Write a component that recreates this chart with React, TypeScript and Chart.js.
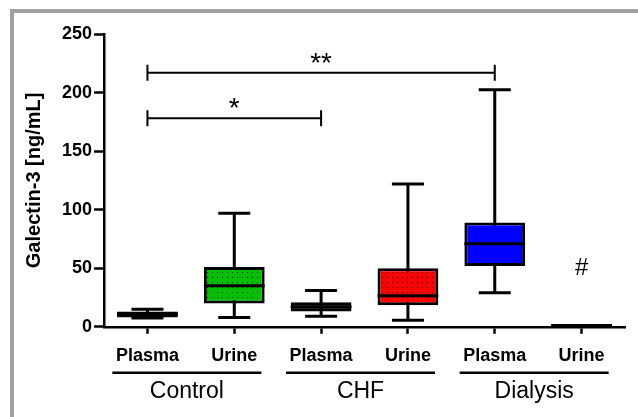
import React, { useEffect, useRef } from "react";
import { Chart, registerables } from "chart.js";

Chart.register(...registerables);

// ---- data ----
const categories = ["Plasma", "Urine", "Plasma", "Urine", "Plasma", "Urine"];
const groups = ["Control", "CHF", "Dialysis"];
const whiskerMin = [7.5, 8, 9, 5.5, 29, 1];
const q1 = [8, 20, 13, 18.5, 52, 0.5];
const median = [10.5, 35, 17, 26.5, 71, 1.2];
const q3 = [13, 51, 21, 50, 89, 1.8];
const whiskerMax = [15, 97, 31, 122, 202.5, 1];
const boxColors = ["#000000", "#00c000", "#000000", "#ff0000", "#0000ff", "#ffffff"];
const dotted = [false, true, false, true, false, false];
const yTicks = [0, 50, 100, 150, 200, 250];
const bracketFrom = [0, 0];
const bracketTo = [4, 2];
const bracketValue = [217, 178];
const bracketLabel = ["**", "*"];
const noteCategory = [5];
const noteValue = [44];
const noteText = ["#"];

const FONT = "'Liberation Sans', Arial, Helvetica, sans-serif";

function makePattern(color: string): CanvasPattern | string {
  const c = document.createElement("canvas");
  c.width = 5;
  c.height = 5;
  const g = c.getContext("2d");
  if (!g) return color;
  g.fillStyle = color;
  g.fillRect(0, 0, 5, 5);
  g.fillStyle = "rgba(0,0,0,0.85)";
  g.fillRect(2, 2, 1, 1);
  const p = g.createPattern(c, "repeat");
  return p || color;
}

const boxPlugin = {
  id: "boxExtras",
  beforeDatasetsDraw(chart: any) {
    const { ctx } = chart;
    const y = chart.scales.y;
    const meta = chart.getDatasetMeta(0);
    ctx.save();
    ctx.strokeStyle = "#000";
    ctx.lineWidth = 3;
    meta.data.forEach((bar: any, i: number) => {
      const cx = bar.x;
      const half = 16;
      const yMax = y.getPixelForValue(whiskerMax[i]);
      const yMin = y.getPixelForValue(whiskerMin[i]);
      ctx.beginPath();
      ctx.moveTo(cx, yMax);
      ctx.lineTo(cx, yMin);
      ctx.moveTo(cx - half, yMax);
      ctx.lineTo(cx + half, yMax);
      ctx.moveTo(cx - half, yMin);
      ctx.lineTo(cx + half, yMin);
      ctx.stroke();
    });
    ctx.restore();
  },
  afterDatasetsDraw(chart: any) {
    const { ctx } = chart;
    const x = chart.scales.x;
    const y = chart.scales.y;
    const meta = chart.getDatasetMeta(0);
    ctx.save();
    ctx.strokeStyle = "#000";
    ctx.lineWidth = 3;
    meta.data.forEach((bar: any, i: number) => {
      const w = bar.width;
      const ym = y.getPixelForValue(median[i]);
      ctx.beginPath();
      ctx.moveTo(bar.x - w / 2, ym);
      ctx.lineTo(bar.x + w / 2, ym);
      ctx.stroke();
    });
    // significance brackets
    ctx.lineWidth = 2;
    ctx.fillStyle = "#000";
    ctx.textAlign = "center";
    ctx.textBaseline = "alphabetic";
    ctx.font = `normal 28px ${FONT}`;
    bracketFrom.forEach((f, i) => {
      const x1 = x.getPixelForValue(f);
      const x2 = x.getPixelForValue(bracketTo[i]);
      const yy = y.getPixelForValue(bracketValue[i]);
      ctx.beginPath();
      ctx.moveTo(x1, yy);
      ctx.lineTo(x2, yy);
      ctx.moveTo(x1, yy - 8);
      ctx.lineTo(x1, yy + 8);
      ctx.moveTo(x2, yy - 8);
      ctx.lineTo(x2, yy + 8);
      ctx.stroke();
      ctx.fillText(bracketLabel[i], (x1 + x2) / 2, yy - 1);
    });
    // notes
    ctx.font = `normal 24px ${FONT}`;
    noteCategory.forEach((c, i) => {
      ctx.fillText(noteText[i], x.getPixelForValue(c), y.getPixelForValue(noteValue[i]));
    });
    ctx.restore();
  },
  afterDraw(chart: any) {
    const { ctx, chartArea } = chart;
    const x = chart.scales.x;
    ctx.save();
    ctx.strokeStyle = "#000";
    ctx.lineWidth = 2.5;
    groups.forEach((_g, gi) => {
      const c = (x.getPixelForValue(gi * 2) + x.getPixelForValue(gi * 2 + 1)) / 2 - 4;
      const yy = chartArea.bottom + 46;
      ctx.beginPath();
      ctx.moveTo(c - 74.5, yy);
      ctx.lineTo(c + 74.5, yy);
      ctx.stroke();
    });
    ctx.restore();
  },
};

export default function App() {
  const ref = useRef<HTMLCanvasElement | null>(null);

  useEffect(() => {
    if (!ref.current) return;
    const bg = boxColors.map((c, i) => (dotted[i] ? makePattern(c) : c));
    const chart = new Chart(ref.current, {
      type: "bar",
      data: {
        labels: categories,
        datasets: [
          {
            data: q1.map((v, i) => [v, q3[i]]) as any,
            backgroundColor: bg as any,
            borderColor: "#000",
            borderWidth: 3,
            borderSkipped: false,
            barPercentage: 0.7,
            categoryPercentage: 1,
          },
        ],
      },
      options: {
        responsive: false,
        animation: false,
        devicePixelRatio: 1,
        layout: { padding: { left: 22, top: 34, right: 13, bottom: 12 } },
        plugins: { legend: { display: false }, tooltip: { enabled: false }, title: { display: false } },
        scales: {
          x: {
            type: "category",
            position: "bottom",
            offset: true,
            grid: {
              display: true,
              offset: false,
              drawOnChartArea: false,
              drawTicks: true,
              tickLength: 7,
              tickWidth: 2.5,
              tickColor: "#000",
            },
            border: { display: true, color: "#000", width: 2.5 },
            ticks: {
              color: "#000",
              font: { family: FONT, size: 18, weight: "bold" },
              padding: 11,
              maxRotation: 0,
              autoSkip: false,
            },
          },
          x2: {
            type: "category",
            position: "bottom",
            labels: groups,
            offset: true,
            grid: { display: false, drawTicks: false },
            border: { display: false },
            ticks: {
              color: "#000",
              font: { family: FONT, size: 23, weight: "normal" },
              padding: 0,
              labelOffset: -4,
              maxRotation: 0,
              autoSkip: false,
            },
          },
          y: {
            type: "linear",
            min: yTicks[0],
            max: yTicks[yTicks.length - 1],
            grid: {
              display: true,
              drawOnChartArea: false,
              drawTicks: true,
              tickLength: 10,
              tickWidth: 2.5,
              tickColor: "#000",
            },
            border: { display: true, color: "#000", width: 2.5 },
            ticks: {
              stepSize: 50,
              color: "#000",
              font: { family: FONT, size: 18, weight: "bold" },
              padding: 2,
            },
            title: {
              display: true,
              text: "Galectin-3 [ng/mL]",
              color: "#000",
              font: { family: FONT, size: 20, weight: "bold" },
              padding: { top: 0, bottom: 14 },
            },
          },
        },
      },
      plugins: [boxPlugin],
    });
    return () => chart.destroy();
  }, []);

  return (
    <div
      style={{
        position: "fixed",
        left: 0,
        top: 0,
        width: 638,
        height: 417,
        overflow: "hidden",
        background: "#fff",
      }}
    >
      <div
        style={{
          position: "absolute",
          left: 10,
          top: 9,
          width: 700,
          height: 500,
          borderLeft: "4px solid #a0a0a0",
          borderTop: "4px solid #a0a0a0",
        }}
      />
      <canvas
        ref={ref}
        width={638}
        height={417}
        style={{ position: "absolute", left: 0, top: 0, width: 638, height: 417 }}
      />
    </div>
  );
}
